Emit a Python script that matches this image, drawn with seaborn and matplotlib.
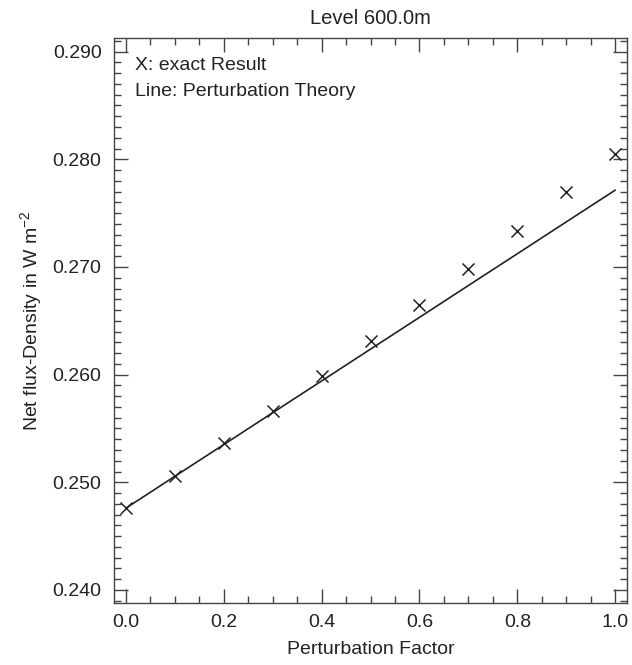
import matplotlib
matplotlib.use("Agg")
import matplotlib.pyplot as plt
from matplotlib.ticker import MultipleLocator, FormatStrFormatter
import seaborn as sns
import pandas as pd

factor = [0.0, 0.1, 0.2, 0.3, 0.4, 0.5, 0.6, 0.7, 0.8, 0.9, 1.0]
exact_result = [0.24764, 0.25058, 0.25362, 0.25665, 0.25990, 0.26315,
                0.26646, 0.26984, 0.27334, 0.27695, 0.28054]
perturbation = [0.24759, 0.25055, 0.25350, 0.25646, 0.25941, 0.26237,
                0.26532, 0.26828, 0.27123, 0.27419, 0.27714]

title = "Level 600.0m"
xlabel = "Perturbation Factor"
ylabel = "Net flux-Density in W m$^{-2}$"
notes = ["X: exact Result", "Line: Perturbation Theory"]

sns.set_theme(style="ticks")
plt.rcParams['font.family'] = ['Liberation Sans', 'DejaVu Sans']
plt.rcParams['mathtext.default'] = 'regular'
ink = "#222222"
FS = 14

df = pd.DataFrame({"factor": factor, "exact": exact_result, "pert": perturbation})

fig = plt.figure(figsize=(6.32, 6.65), dpi=100)
ax = fig.add_axes([114/632, 1 - 602.7/665, (627 - 114)/632, (602.7 - 38.3)/665])

sns.lineplot(data=df, x="factor", y="pert", ax=ax, color=ink, linewidth=1.2)
sns.scatterplot(data=df, x="factor", y="exact", ax=ax, marker="x", s=75,
                color=ink, linewidth=1.1, zorder=3)

ax.set_xlim(-0.024, 1.024)
ax.set_ylim(0.23882, 0.29124)
ax.xaxis.set_major_locator(MultipleLocator(0.2))
ax.xaxis.set_minor_locator(MultipleLocator(0.05))
ax.yaxis.set_major_locator(MultipleLocator(0.01))
ax.yaxis.set_minor_locator(MultipleLocator(0.001))
ax.xaxis.set_major_formatter(FormatStrFormatter('%.1f'))
ax.yaxis.set_major_formatter(FormatStrFormatter('%.3f'))

ax.tick_params(which='both', direction='in', top=True, right=True,
               color="#444444", width=1.0, labelsize=FS, labelcolor=ink)
ax.tick_params(which='major', length=10, pad=9)
ax.tick_params(axis='x', which='major', pad=8)
ax.tick_params(which='minor', length=5)
for s in ax.spines.values():
    s.set_color("#444444")
    s.set_linewidth(1.0)

ax.set_title(title, fontsize=FS + 0.5, color=ink, pad=10)
ax.set_xlabel(xlabel, fontsize=FS, color=ink, labelpad=7)
ax.set_ylabel(ylabel, fontsize=FS, color=ink, labelpad=6)

ax.text(0.018, 0.2887, notes[0], fontsize=FS, color=ink, va='center', ha='left')
ax.text(0.018, 0.2863, notes[1], fontsize=FS, color=ink, va='center', ha='left')

fig.savefig("out.png", dpi=100)
